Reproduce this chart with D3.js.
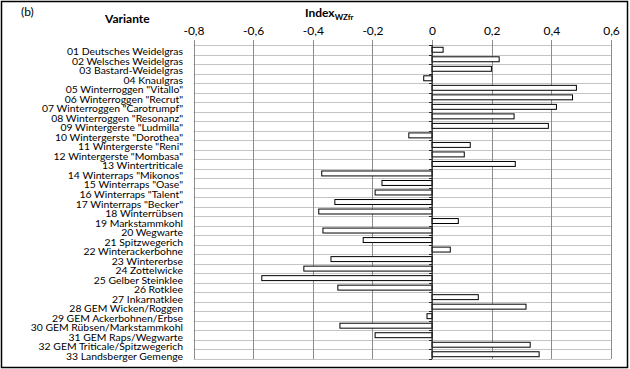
<!DOCTYPE html>
<html>
<head>
<meta charset="utf-8">
<script src="https://cdn.jsdelivr.net/npm/d3@7"></script>
<style>
  body { margin: 0; background: #fff; }
  text { font-family: Lato, "Liberation Sans", sans-serif; fill: #000; }
</style>
</head>
<body>
<script>
var svgWidth = 630, svgHeight = 369;

var variants = [
  '01 Deutsches Weidelgras', '02 Welsches Weidelgras', '03 Bastard-Weidelgras', '04 Knaulgras',
  '05 Winterroggen "Vitallo"', '06 Winterroggen "Recrut"', '07 Winterroggen "Carotrumpf"',
  '08 Winterroggen "Resonanz"', '09 Wintergerste "Ludmilla"', '10 Wintergerste "Dorothea"',
  '11 Wintergerste "Reni"', '12 Wintergerste "Mombasa"', '13 Wintertriticale',
  '14 Winterraps "Mikonos"', '15 Winterraps "Oase"', '16 Winterraps "Talent"',
  '17 Winterraps "Becker"', '18 Winterrübsen', '19 Markstammkohl', '20 Wegwarte',
  '21 Spitzwegerich', '22 Winterackerbohne', '23 Wintererbse', '24 Zottelwicke',
  '25 Gelber Steinklee', '26 Rotklee', '27 Inkarnatklee', '28 GEM Wicken/Roggen',
  '29 GEM Ackerbohnen/Erbse', '30 GEM Rübsen/Markstammkohl', '31 GEM Raps/Wegwarte',
  '32 GEM Triticale/Spitzwegerich', '33 Landsberger Gemenge'
];

var indexValues = [
  0.037, 0.225, 0.199, -0.028, 0.484, 0.471, 0.417, 0.275, 0.39, -0.078, 0.128,
  0.108, 0.279, -0.37, -0.168, -0.191, -0.326, -0.38, 0.088, -0.366, -0.231,
  0.061, -0.339, -0.43, -0.571, -0.316, 0.155, 0.315, -0.017, -0.309, -0.191,
  0.329, 0.359
];

var xTicks = [-0.8, -0.6, -0.4, -0.2, 0, 0.2, 0.4, 0.6];

var data = variants.map(function(v, i) { return {name: v, value: indexValues[i]}; });

var svg = d3.select("body").append("svg").attr("width", svgWidth).attr("height", svgHeight);

// outer frame
svg.append("rect")
    .attr("x", 1.5).attr("y", 1.5)
    .attr("width", svgWidth - 4).attr("height", svgHeight - 3)
    .attr("fill", "none").attr("stroke", "#000").attr("stroke-width", 1.5);

var plotTop = 45, plotBottom = 359;
var xScale = d3.scaleLinear().domain([-0.8, 0.6]).range([193.5, 611]);
var yScale = d3.scaleBand().domain(variants).range([plotTop, plotBottom]).paddingInner(0.48).paddingOuter(0.24);
var step = yScale.step();

// horizontal grid lines at each row boundary
svg.append("g").selectAll("line")
    .data(d3.range(variants.length + 1))
  .enter().append("line")
    .attr("x1", xScale(-0.8)).attr("x2", xScale(0.6))
    .attr("y1", function(i) { return Math.round(plotTop + i * step) + 0.5; })
    .attr("y2", function(i) { return Math.round(plotTop + i * step) + 0.5; })
    .attr("stroke", "#c4c4c4").attr("stroke-width", 1);

// vertical grid lines
svg.append("g").selectAll("line")
    .data(xTicks)
  .enter().append("line")
    .attr("x1", function(d) { return Math.round(xScale(d)) + 0.5; })
    .attr("x2", function(d) { return Math.round(xScale(d)) + 0.5; })
    .attr("y1", plotTop - 5).attr("y2", plotBottom)
    .attr("stroke", "#8c8c8c").attr("stroke-width", 1);

// top axis labels
var xAxis = d3.axisTop(xScale)
    .tickValues(xTicks)
    .tickSize(0)
    .tickPadding(10)
    .tickFormat(function(d) { return d === 0 ? "0" : d3.format(".1f")(d).replace(".", ",").replace("−", "-"); });

var axisG = svg.append("g")
    .attr("transform", "translate(0," + plotTop + ")")
    .call(xAxis);
axisG.select(".domain").remove();
axisG.selectAll("text")
    .style("font-family", "Lato, 'Liberation Sans', sans-serif")
    .style("font-size", "12px");

// bars
svg.append("g").selectAll("rect")
    .data(data)
  .enter().append("rect")
    .attr("x", function(d) { return xScale(Math.min(0, d.value)); })
    .attr("y", function(d) { return yScale(d.name); })
    .attr("width", function(d) { return Math.abs(xScale(d.value) - xScale(0)); })
    .attr("height", yScale.bandwidth())
    .attr("fill", "#fff")
    .attr("stroke", "#000")
    .attr("stroke-width", 1);

// zero axis with small ticks
svg.append("line")
    .attr("x1", xScale(0)).attr("x2", xScale(0))
    .attr("y1", plotTop).attr("y2", plotBottom)
    .attr("stroke", "#222").attr("stroke-width", 1.2);
svg.append("g").selectAll("line")
    .data(d3.range(variants.length + 1))
  .enter().append("line")
    .attr("x1", xScale(0) - 3).attr("x2", xScale(0))
    .attr("y1", function(i) { return Math.round(plotTop + i * step) + 0.5; })
    .attr("y2", function(i) { return Math.round(plotTop + i * step) + 0.5; })
    .attr("stroke", "#222").attr("stroke-width", 1);

// category labels
svg.append("g").selectAll("text")
    .data(data)
  .enter().append("text")
    .attr("x", 183)
    .attr("y", function(d) { return yScale(d.name) + yScale.bandwidth() / 2 + 5.5; })
    .attr("text-anchor", "end")
    .style("font-size", "10.4px")
    .text(function(d) { return d.name; });

// headers
svg.append("text").attr("x", 21).attr("y", 16).style("font-size", "12px").text("(b)");
svg.append("text").attr("x", 105).attr("y", 23).style("font-size", "12px").style("font-weight", "bold").text("Variante");
var idx = svg.append("text").attr("x", 305).attr("y", 17).style("font-size", "12px").style("font-weight", "bold");
idx.append("tspan").text("Index");
idx.append("tspan").attr("dy", 3).style("font-size", "8px").text("WZfr");
</script>
</body>
</html>
